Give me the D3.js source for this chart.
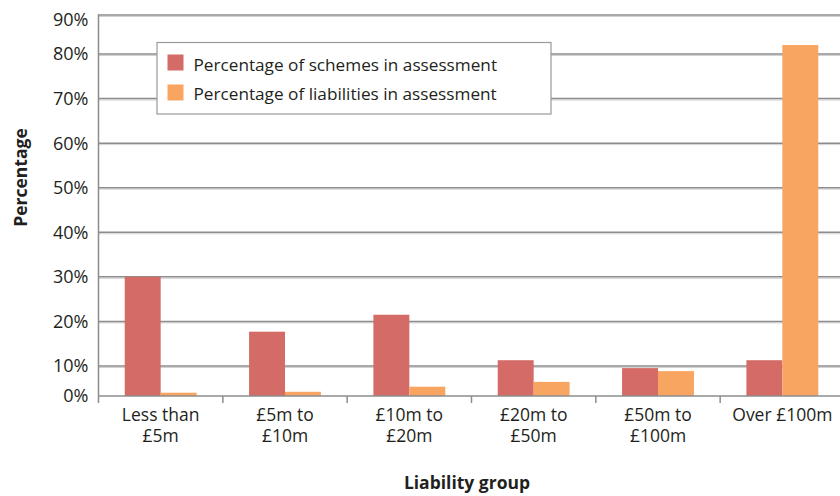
<!DOCTYPE html>
<html>
<head>
<meta charset="utf-8">
<script src="https://cdn.jsdelivr.net/npm/d3@7/dist/d3.min.js"></script>
<style>
  html, body { margin: 0; padding: 0; background: #fff; }
  svg { display: block; font-family: "Open Sans", "Noto Sans", sans-serif; }
</style>
</head>
<body>
<svg id="chart" width="840" height="496"></svg>
<script>
// Liability groups and the two series, in percent
const categories = ["Less than £5m", "£5m to £10m", "£10m to £20m", "£20m to £50m", "£50m to £100m", "Over £100m"];
const categoryLines = [["Less than", "£5m"], ["£5m to", "£10m"], ["£10m to", "£20m"], ["£20m to", "£50m"], ["£50m to", "£100m"], ["Over £100m"]];
const schemesPct = [30, 17.7, 21.5, 11.3, 9.3, 11.3];
const liabilitiesPct = [1.1, 1.4, 3.1, 4.7, 8.3, 82.3];
const seriesNames = ["Percentage of schemes in assessment", "Percentage of liabilities in assessment"];
const seriesColors = ["#d46b66", "#f9a562"];
const yTicks = [0, 10, 20, 30, 40, 50, 60, 70, 80, 90];

const svg = d3.select("#chart");
const plotLeft = 98.5, plotRight = 844.5, plotTop = 15, plotBottom = 396;

// The value axis is stretched piecewise: the first and last intervals are shorter
const y = d3.scaleLinear().domain([0, 10, 80, 90]).range([plotBottom, 366, 54, plotTop]);

const x0 = d3.scaleBand().domain(categories).range([plotLeft, plotRight]).padding(0);
const x1 = d3.scaleBand().domain(seriesNames).range([0, x0.bandwidth()]).paddingInner(0).paddingOuter(0.73);

// Gridlines with a soft shadow line underneath
const grid = svg.append("g");
yTicks.filter(t => t > 0).forEach(t => {
  grid.append("line").attr("x1", plotLeft).attr("x2", plotRight)
    .attr("y1", y(t) + 1.5).attr("y2", y(t) + 1.5)
    .attr("stroke", "#d2d2d2").attr("stroke-width", 1);
  grid.append("line").attr("x1", plotLeft).attr("x2", plotRight)
    .attr("y1", y(t)).attr("y2", y(t))
    .attr("stroke", "#8c8c8c").attr("stroke-width", 1.5);
});

// Bars
const rows = categories.map((c, i) => ({ cat: c, vals: [schemesPct[i], liabilitiesPct[i]] }));
svg.append("g").selectAll("g").data(rows).join("g")
  .attr("transform", d => `translate(${x0(d.cat)},0)`)
  .selectAll("rect").data(d => d.vals.map((v, j) => ({ key: seriesNames[j], v, j })))
  .join("rect")
  .attr("x", d => x1(d.key))
  .attr("width", x1.bandwidth())
  .attr("y", d => y(d.v))
  .attr("height", d => plotBottom - y(d.v))
  .attr("fill", d => seriesColors[d.j]);

// Y axis line and labels (the top label sits just inside the frame)
svg.append("line").attr("x1", plotLeft).attr("x2", plotLeft).attr("y1", plotTop - 0.75).attr("y2", plotBottom)
  .attr("stroke", "#8c8c8c").attr("stroke-width", 1.5);
svg.append("g").selectAll("text").data(yTicks).join("text")
  .attr("x", 88.5).attr("y", d => Math.max(y(d), plotTop + 5)).attr("dy", "0.36em")
  .attr("text-anchor", "end").attr("font-size", 18).attr("fill", "#231f20")
  .text(d => d + "%");

// X axis with category boundary ticks
const xAxis = svg.append("g");
xAxis.append("line").attr("x1", plotLeft).attr("x2", plotRight).attr("y1", plotBottom).attr("y2", plotBottom)
  .attr("stroke", "#8c8c8c").attr("stroke-width", 1.5);
const bounds = categories.map(c => x0(c)).concat([plotRight]);
xAxis.selectAll("line.tick").data(bounds).join("line").attr("class", "tick")
  .attr("x1", d => d).attr("x2", d => d).attr("y1", plotBottom).attr("y2", plotBottom + 7)
  .attr("stroke", "#8c8c8c").attr("stroke-width", 1.5);
const xLabels = xAxis.selectAll("text").data(categories).join("text")
  .attr("text-anchor", "middle").attr("font-size", 17.5).attr("fill", "#231f20");
xLabels.selectAll("tspan").data((d, i) => categoryLines[i].map((l, k) => ({ l, k, cx: x0(d) + x0.bandwidth() / 2 })))
  .join("tspan").attr("x", d => d.cx).attr("y", d => 421 + d.k * 21).text(d => d.l);

// Axis titles
svg.append("text").attr("x", 467).attr("y", 489).attr("text-anchor", "middle")
  .attr("font-size", 17.5).attr("font-weight", "bold").attr("fill", "#231f20").text("Liability group");
svg.append("text").attr("transform", "translate(27,177.5) rotate(-90)").attr("text-anchor", "middle")
  .attr("font-size", 17.5).attr("font-weight", "bold").attr("fill", "#231f20").text("Percentage");

// Legend
const lg = svg.append("g");
lg.append("rect").attr("x", 157).attr("y", 42.5).attr("width", 394).attr("height", 71.5)
  .attr("fill", "#fff").attr("stroke", "#9a9a9a").attr("stroke-width", 1.2);
seriesNames.forEach((name, i) => {
  lg.append("rect").attr("x", 167.5).attr("y", 54.5 + i * 30).attr("width", 16).attr("height", 16)
    .attr("fill", seriesColors[i]);
  lg.append("text").attr("x", 193.5).attr("y", 70.5 + i * 29).attr("font-size", 17.2)
    .attr("fill", "#231f20").text(name);
});
</script>
</body>
</html>
